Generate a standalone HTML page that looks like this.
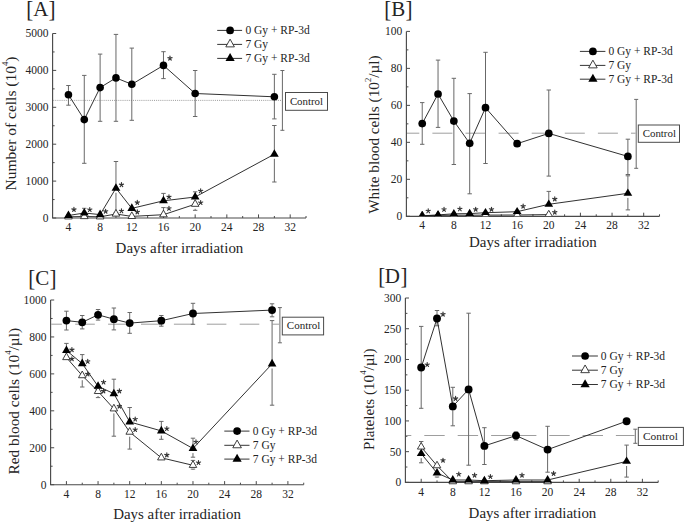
<!DOCTYPE html>
<html><head><meta charset="utf-8"><style>
html,body{margin:0;padding:0;background:#fff;}
body{width:685px;height:523px;overflow:hidden;}
svg{display:block;}
</style></head><body>
<svg width="685" height="523" viewBox="0 0 685 523" font-family="'Liberation Serif', serif"><rect width="685" height="523" fill="#fff"/><defs><clipPath id="clipB"><rect x="380" y="20" width="300" height="196.2"/></clipPath></defs><text x="0" y="0" font-size="21" fill="#242424" transform="translate(26.35 16.80) scale(1 1.07)">[</text><text x="0" y="0" font-size="21" fill="#242424" transform="translate(48.46 16.80) scale(1 1.07)">]</text><text x="33.30" y="15.70" font-size="21" fill="#242424">A</text><path d="M52.60 33.50L52.60 218.00L306.04 218.00" stroke="#4a4a4a" stroke-width="1.15" fill="none"/><path d="M52.60 218.00L56.20 218.00M52.60 199.55L54.60 199.55M52.60 181.10L56.20 181.10M52.60 162.65L54.60 162.65M52.60 144.20L56.20 144.20M52.60 125.75L54.60 125.75M52.60 107.30L56.20 107.30M52.60 88.85L54.60 88.85M52.60 70.40L56.20 70.40M52.60 51.95L54.60 51.95M52.60 33.50L56.20 33.50M68.44 218.00L68.44 214.40M84.28 218.00L84.28 216.00M100.12 218.00L100.12 214.40M115.96 218.00L115.96 216.00M131.80 218.00L131.80 214.40M147.64 218.00L147.64 216.00M163.48 218.00L163.48 214.40M179.32 218.00L179.32 216.00M195.16 218.00L195.16 214.40M211.00 218.00L211.00 216.00M226.84 218.00L226.84 214.40M242.68 218.00L242.68 216.00M258.52 218.00L258.52 214.40M274.36 218.00L274.36 216.00M290.20 218.00L290.20 214.40M306.04 218.00L306.04 216.00" stroke="#4a4a4a" stroke-width="1" fill="none"/><text x="48.40" y="221.90" font-size="11.5" text-anchor="end" fill="#242424" >0</text><text x="48.40" y="185.00" font-size="11.5" text-anchor="end" fill="#242424" >1000</text><text x="48.40" y="148.10" font-size="11.5" text-anchor="end" fill="#242424" >2000</text><text x="48.40" y="111.20" font-size="11.5" text-anchor="end" fill="#242424" >3000</text><text x="48.40" y="74.30" font-size="11.5" text-anchor="end" fill="#242424" >4000</text><text x="48.40" y="37.40" font-size="11.5" text-anchor="end" fill="#242424" >5000</text><text x="68.44" y="231.00" font-size="11.5" text-anchor="middle" fill="#242424" >4</text><text x="100.12" y="231.00" font-size="11.5" text-anchor="middle" fill="#242424" >8</text><text x="131.80" y="231.00" font-size="11.5" text-anchor="middle" fill="#242424" >12</text><text x="163.48" y="231.00" font-size="11.5" text-anchor="middle" fill="#242424" >16</text><text x="195.16" y="231.00" font-size="11.5" text-anchor="middle" fill="#242424" >20</text><text x="226.84" y="231.00" font-size="11.5" text-anchor="middle" fill="#242424" >24</text><text x="258.52" y="231.00" font-size="11.5" text-anchor="middle" fill="#242424" >28</text><text x="290.20" y="231.00" font-size="11.5" text-anchor="middle" fill="#242424" >32</text><path d="M53.20 100.4L282 100.4" stroke="#8a8a8a" stroke-width="0.85" stroke-dasharray="1 1.1" fill="none"/><text x="0" y="0" font-size="15.5" fill="#242424" transform="translate(16.20 190.40) rotate(-90)">Number of cells (10<tspan font-size="8.6" dy="-8.0">4</tspan><tspan dy="8.0">)</tspan></text><text x="115.60" y="253.30" font-size="14.95" text-anchor="start" fill="#242424" >Days after irradiation</text><path d="M163.48 207.60L163.48 211.70M161.28 207.60L165.68 207.60" stroke="#686868" stroke-width="1.0" fill="none"/><path d="M195.16 208.80L195.16 210.30M192.96 210.30L197.36 210.30" stroke="#686868" stroke-width="1.0" fill="none"/><path d="M84.28 208.30L84.28 210.00M82.08 208.30L86.48 208.30" stroke="#686868" stroke-width="1.0" fill="none"/><path d="M115.96 161.50L115.96 185.20M113.76 161.50L118.16 161.50" stroke="#686868" stroke-width="1.0" fill="none"/><path d="M115.96 192.80L115.96 212.50M113.76 212.50L118.16 212.50" stroke="#686868" stroke-width="1.0" fill="none"/><path d="M163.48 193.40L163.48 197.80M161.28 193.40L165.68 193.40" stroke="#686868" stroke-width="1.0" fill="none"/><path d="M195.16 191.80L195.16 194.00M192.96 191.80L197.36 191.80" stroke="#686868" stroke-width="1.0" fill="none"/><path d="M274.36 125.50L274.36 151.20M272.16 125.50L276.56 125.50" stroke="#686868" stroke-width="1.0" fill="none"/><path d="M274.36 158.80L274.36 182.00M272.16 182.00L276.56 182.00" stroke="#686868" stroke-width="1.0" fill="none"/><path d="M68.44 85.50L68.44 94.80M66.24 85.50L70.64 85.50" stroke="#686868" stroke-width="1.0" fill="none"/><path d="M68.44 94.80L68.44 105.20M66.24 105.20L70.64 105.20" stroke="#686868" stroke-width="1.0" fill="none"/><path d="M84.28 75.40L84.28 119.60M82.08 75.40L86.48 75.40" stroke="#686868" stroke-width="1.0" fill="none"/><path d="M84.28 119.60L84.28 163.30M82.08 163.30L86.48 163.30" stroke="#686868" stroke-width="1.0" fill="none"/><path d="M100.12 54.10L100.12 87.60M97.92 54.10L102.32 54.10" stroke="#686868" stroke-width="1.0" fill="none"/><path d="M100.12 87.60L100.12 121.30M97.92 121.30L102.32 121.30" stroke="#686868" stroke-width="1.0" fill="none"/><path d="M115.96 34.40L115.96 77.90M113.76 34.40L118.16 34.40" stroke="#686868" stroke-width="1.0" fill="none"/><path d="M115.96 77.90L115.96 121.30M113.76 121.30L118.16 121.30" stroke="#686868" stroke-width="1.0" fill="none"/><path d="M131.80 48.10L131.80 84.30M129.60 48.10L134.00 48.10" stroke="#686868" stroke-width="1.0" fill="none"/><path d="M131.80 84.30L131.80 120.30M129.60 120.30L134.00 120.30" stroke="#686868" stroke-width="1.0" fill="none"/><path d="M163.48 51.70L163.48 65.40M161.28 51.70L165.68 51.70" stroke="#686868" stroke-width="1.0" fill="none"/><path d="M163.48 65.40L163.48 78.60M161.28 78.60L165.68 78.60" stroke="#686868" stroke-width="1.0" fill="none"/><path d="M195.16 70.50L195.16 93.50M192.96 70.50L197.36 70.50" stroke="#686868" stroke-width="1.0" fill="none"/><path d="M195.16 93.50L195.16 116.50M192.96 116.50L197.36 116.50" stroke="#686868" stroke-width="1.0" fill="none"/><path d="M274.36 74.30L274.36 96.80M272.16 74.30L276.56 74.30" stroke="#686868" stroke-width="1.0" fill="none"/><path d="M274.36 96.80L274.36 118.90M272.16 118.90L276.56 118.90" stroke="#686868" stroke-width="1.0" fill="none"/><path d="M68.44 216.80L84.28 216.50L100.12 216.80L115.96 214.00L131.80 216.40L163.48 214.70L195.16 204.20" stroke="#1a1a1a" stroke-width="0.9" fill="none" stroke-linejoin="round"/><path d="M68.44 215.50L84.28 213.00L100.12 214.60L115.96 188.20L131.80 208.40L163.48 200.80L195.16 197.00L274.36 154.20" stroke="#1a1a1a" stroke-width="0.9" fill="none" stroke-linejoin="round"/><path d="M68.44 94.80L84.28 119.60L100.12 87.60L115.96 77.90L131.80 84.30L163.48 65.40L195.16 93.50L274.36 96.80" stroke="#1a1a1a" stroke-width="0.9" fill="none" stroke-linejoin="round"/><path d="M68.44 212.23L64.64 218.93L72.24 218.93Z" fill="#fff" stroke="#2a2a2a" stroke-width="0.9"/><path d="M84.28 211.93L80.48 218.63L88.08 218.63Z" fill="#fff" stroke="#2a2a2a" stroke-width="0.9"/><path d="M100.12 212.23L96.32 218.93L103.92 218.93Z" fill="#fff" stroke="#2a2a2a" stroke-width="0.9"/><path d="M115.96 209.43L112.16 216.13L119.76 216.13Z" fill="#fff" stroke="#2a2a2a" stroke-width="0.9"/><path d="M131.80 211.83L128.00 218.53L135.60 218.53Z" fill="#fff" stroke="#2a2a2a" stroke-width="0.9"/><path d="M163.48 210.13L159.68 216.83L167.28 216.83Z" fill="#fff" stroke="#2a2a2a" stroke-width="0.9"/><path d="M195.16 199.63L191.36 206.33L198.96 206.33Z" fill="#fff" stroke="#2a2a2a" stroke-width="0.9"/><path d="M68.44 210.43L64.04 218.03L72.84 218.03Z" fill="#000"/><path d="M84.28 207.93L79.88 215.53L88.68 215.53Z" fill="#000"/><path d="M100.12 209.53L95.72 217.13L104.52 217.13Z" fill="#000"/><path d="M115.96 183.13L111.56 190.73L120.36 190.73Z" fill="#000"/><path d="M131.80 203.33L127.40 210.93L136.20 210.93Z" fill="#000"/><path d="M163.48 195.73L159.08 203.33L167.88 203.33Z" fill="#000"/><path d="M195.16 191.93L190.76 199.53L199.56 199.53Z" fill="#000"/><path d="M274.36 149.13L269.96 156.73L278.76 156.73Z" fill="#000"/><circle cx="68.44" cy="94.80" r="3.8" fill="#000"/><circle cx="84.28" cy="119.60" r="3.8" fill="#000"/><circle cx="100.12" cy="87.60" r="3.8" fill="#000"/><circle cx="115.96" cy="77.90" r="3.8" fill="#000"/><circle cx="131.80" cy="84.30" r="3.8" fill="#000"/><circle cx="163.48" cy="65.40" r="3.8" fill="#000"/><circle cx="195.16" cy="93.50" r="3.8" fill="#000"/><circle cx="274.36" cy="96.80" r="3.8" fill="#000"/><path d="M73.94 209.60L73.94 207.40M73.94 209.60L76.03 208.92M73.94 209.60L75.23 211.38M73.94 209.60L72.65 211.38M73.94 209.60L71.85 208.92" stroke="#333" stroke-width="1.15" fill="none" stroke-linecap="round"/><path d="M89.78 209.70L89.78 207.50M89.78 209.70L91.87 209.02M89.78 209.70L91.07 211.48M89.78 209.70L88.49 211.48M89.78 209.70L87.69 209.02" stroke="#333" stroke-width="1.15" fill="none" stroke-linecap="round"/><path d="M105.62 211.40L105.62 209.20M105.62 211.40L107.71 210.72M105.62 211.40L106.91 213.18M105.62 211.40L104.33 213.18M105.62 211.40L103.53 210.72" stroke="#333" stroke-width="1.15" fill="none" stroke-linecap="round"/><path d="M121.46 211.00L121.46 208.80M121.46 211.00L123.55 210.32M121.46 211.00L122.75 212.78M121.46 211.00L120.17 212.78M121.46 211.00L119.37 210.32" stroke="#333" stroke-width="1.15" fill="none" stroke-linecap="round"/><path d="M137.30 202.60L137.30 200.40M137.30 202.60L139.39 201.92M137.30 202.60L138.59 204.38M137.30 202.60L136.01 204.38M137.30 202.60L135.21 201.92" stroke="#333" stroke-width="1.15" fill="none" stroke-linecap="round"/><path d="M168.98 196.90L168.98 194.70M168.98 196.90L171.07 196.22M168.98 196.90L170.27 198.68M168.98 196.90L167.69 198.68M168.98 196.90L166.89 196.22" stroke="#333" stroke-width="1.15" fill="none" stroke-linecap="round"/><path d="M200.66 191.00L200.66 188.80M200.66 191.00L202.75 190.32M200.66 191.00L201.95 192.78M200.66 191.00L199.37 192.78M200.66 191.00L198.57 190.32" stroke="#333" stroke-width="1.15" fill="none" stroke-linecap="round"/><path d="M121.46 184.80L121.46 182.60M121.46 184.80L123.55 184.12M121.46 184.80L122.75 186.58M121.46 184.80L120.17 186.58M121.46 184.80L119.37 184.12" stroke="#333" stroke-width="1.15" fill="none" stroke-linecap="round"/><path d="M137.30 212.10L137.30 209.90M137.30 212.10L139.39 211.42M137.30 212.10L138.59 213.88M137.30 212.10L136.01 213.88M137.30 212.10L135.21 211.42" stroke="#333" stroke-width="1.15" fill="none" stroke-linecap="round"/><path d="M168.98 208.50L168.98 206.30M168.98 208.50L171.07 207.82M168.98 208.50L170.27 210.28M168.98 208.50L167.69 210.28M168.98 208.50L166.89 207.82" stroke="#333" stroke-width="1.15" fill="none" stroke-linecap="round"/><path d="M200.66 202.70L200.66 200.50M200.66 202.70L202.75 202.02M200.66 202.70L201.95 204.48M200.66 202.70L199.37 204.48M200.66 202.70L198.57 202.02" stroke="#333" stroke-width="1.15" fill="none" stroke-linecap="round"/><path d="M169.98 58.30L169.98 56.10M169.98 58.30L172.07 57.62M169.98 58.30L171.27 60.08M169.98 58.30L168.69 60.08M169.98 58.30L167.89 57.62" stroke="#333" stroke-width="1.15" fill="none" stroke-linecap="round"/><path d="M217.20 30.40L242.10 30.40" stroke="#2a2a2a" stroke-width="0.95" fill="none"/><circle cx="230.10" cy="30.40" r="3.85" fill="#000"/><text x="245.40" y="34.10" font-size="11.5" text-anchor="start" fill="#242424" >0 Gy + RP-3d</text><path d="M217.20 44.40L242.10 44.40" stroke="#2a2a2a" stroke-width="0.95" fill="none"/><path d="M230.10 39.17L225.80 46.87L234.40 46.87Z" fill="#fff" stroke="#2a2a2a" stroke-width="0.9"/><text x="245.40" y="48.10" font-size="11.5" text-anchor="start" fill="#242424" >7 Gy</text><path d="M217.20 58.40L242.10 58.40" stroke="#2a2a2a" stroke-width="0.95" fill="none"/><path d="M230.10 53.07L225.50 61.07L234.70 61.07Z" fill="#000"/><text x="245.40" y="62.10" font-size="11.5" text-anchor="start" fill="#242424" >7 Gy + RP-3d</text><path d="M282.40 70.50L282.40 130.30M280.40 70.50L284.40 70.50M280.40 130.30L284.40 130.30" stroke="#686868" stroke-width="1.0" fill="none"/><rect x="285.50" y="92.50" width="42.00" height="17.80" fill="#fff" stroke="#4a4a4a" stroke-width="1"/><text x="289.90" y="104.70" font-size="10.85" text-anchor="start" fill="#242424" >Control</text><text x="0" y="0" font-size="21" fill="#242424" transform="translate(384.15 16.90) scale(1 1.07)">[</text><text x="0" y="0" font-size="21" fill="#242424" transform="translate(405.46 16.90) scale(1 1.07)">]</text><text x="391.30" y="15.80" font-size="21" fill="#242424">B</text><path d="M406.40 31.40L406.40 216.30L659.52 216.30" stroke="#4a4a4a" stroke-width="1.15" fill="none"/><path d="M406.40 216.30L410.00 216.30M406.40 197.81L408.40 197.81M406.40 179.32L410.00 179.32M406.40 160.83L408.40 160.83M406.40 142.34L410.00 142.34M406.40 123.85L408.40 123.85M406.40 105.36L410.00 105.36M406.40 86.87L408.40 86.87M406.40 68.38L410.00 68.38M406.40 49.89L408.40 49.89M406.40 31.40L410.00 31.40M422.22 216.30L422.22 212.70M438.04 216.30L438.04 214.30M453.86 216.30L453.86 212.70M469.68 216.30L469.68 214.30M485.50 216.30L485.50 212.70M501.32 216.30L501.32 214.30M517.14 216.30L517.14 212.70M532.96 216.30L532.96 214.30M548.78 216.30L548.78 212.70M564.60 216.30L564.60 214.30M580.42 216.30L580.42 212.70M596.24 216.30L596.24 214.30M612.06 216.30L612.06 212.70M627.88 216.30L627.88 214.30M643.70 216.30L643.70 212.70M659.52 216.30L659.52 214.30" stroke="#4a4a4a" stroke-width="1" fill="none"/><text x="402.20" y="220.20" font-size="11.5" text-anchor="end" fill="#242424" >0</text><text x="402.20" y="183.22" font-size="11.5" text-anchor="end" fill="#242424" >20</text><text x="402.20" y="146.24" font-size="11.5" text-anchor="end" fill="#242424" >40</text><text x="402.20" y="109.26" font-size="11.5" text-anchor="end" fill="#242424" >60</text><text x="402.20" y="72.28" font-size="11.5" text-anchor="end" fill="#242424" >80</text><text x="402.20" y="35.30" font-size="11.5" text-anchor="end" fill="#242424" >100</text><text x="422.22" y="228.90" font-size="11.5" text-anchor="middle" fill="#242424" >4</text><text x="453.86" y="228.90" font-size="11.5" text-anchor="middle" fill="#242424" >8</text><text x="485.50" y="228.90" font-size="11.5" text-anchor="middle" fill="#242424" >12</text><text x="517.14" y="228.90" font-size="11.5" text-anchor="middle" fill="#242424" >16</text><text x="548.78" y="228.90" font-size="11.5" text-anchor="middle" fill="#242424" >20</text><text x="580.42" y="228.90" font-size="11.5" text-anchor="middle" fill="#242424" >24</text><text x="612.06" y="228.90" font-size="11.5" text-anchor="middle" fill="#242424" >28</text><text x="643.70" y="228.90" font-size="11.5" text-anchor="middle" fill="#242424" >32</text><path d="M407.00 133.20L419.30 133.20M432.40 133.20L452.40 133.20M465.50 133.20L485.50 133.20M498.60 133.20L518.60 133.20M531.70 133.20L551.70 133.20M564.80 133.20L584.80 133.20M597.90 133.20L617.90 133.20M631.00 133.20L635.50 133.20" stroke="#999" stroke-width="0.95" fill="none"/><text x="0" y="0" font-size="15.25" fill="#242424" transform="translate(378.60 213.80) rotate(-90)">White blood cells (10<tspan font-size="8.6" dy="-8.0">2</tspan><tspan dy="8.0">/µl)</tspan></text><text x="469.00" y="247.30" font-size="14.95" text-anchor="start" fill="#242424" >Days after irradiation</text><path d="M548.78 191.40L548.78 201.30M546.58 191.40L550.98 191.40" stroke="#686868" stroke-width="1.0" fill="none"/><path d="M627.88 175.80L627.88 190.30M625.68 175.80L630.08 175.80" stroke="#686868" stroke-width="1.0" fill="none"/><path d="M627.88 197.90L627.88 209.90M625.68 209.90L630.08 209.90" stroke="#686868" stroke-width="1.0" fill="none"/><path d="M422.22 102.60L422.22 123.60M420.02 102.60L424.42 102.60" stroke="#686868" stroke-width="1.0" fill="none"/><path d="M422.22 123.60L422.22 144.30M420.02 144.30L424.42 144.30" stroke="#686868" stroke-width="1.0" fill="none"/><path d="M438.04 60.10L438.04 94.00M435.84 60.10L440.24 60.10" stroke="#686868" stroke-width="1.0" fill="none"/><path d="M438.04 94.00L438.04 127.40M435.84 127.40L440.24 127.40" stroke="#686868" stroke-width="1.0" fill="none"/><path d="M453.86 78.30L453.86 121.10M451.66 78.30L456.06 78.30" stroke="#686868" stroke-width="1.0" fill="none"/><path d="M453.86 121.10L453.86 164.50M451.66 164.50L456.06 164.50" stroke="#686868" stroke-width="1.0" fill="none"/><path d="M469.68 93.60L469.68 143.30M467.48 93.60L471.88 93.60" stroke="#686868" stroke-width="1.0" fill="none"/><path d="M469.68 143.30L469.68 193.80M467.48 193.80L471.88 193.80" stroke="#686868" stroke-width="1.0" fill="none"/><path d="M485.50 52.30L485.50 107.70M483.30 52.30L487.70 52.30" stroke="#686868" stroke-width="1.0" fill="none"/><path d="M485.50 107.70L485.50 163.50M483.30 163.50L487.70 163.50" stroke="#686868" stroke-width="1.0" fill="none"/><path d="M548.78 90.00L548.78 133.40M546.58 90.00L550.98 90.00" stroke="#686868" stroke-width="1.0" fill="none"/><path d="M548.78 133.40L548.78 176.10M546.58 176.10L550.98 176.10" stroke="#686868" stroke-width="1.0" fill="none"/><path d="M627.88 139.20L627.88 156.40M625.68 139.20L630.08 139.20" stroke="#686868" stroke-width="1.0" fill="none"/><path d="M627.88 156.40L627.88 174.50M625.68 174.50L630.08 174.50" stroke="#686868" stroke-width="1.0" fill="none"/><path d="M422.22 215.50L438.04 215.40L453.86 215.20L469.68 215.20L485.50 215.10L517.14 215.00L548.78 214.60" stroke="#1a1a1a" stroke-width="0.9" fill="none" stroke-linejoin="round"/><path d="M422.22 215.90L438.04 214.90L453.86 213.80L469.68 213.60L485.50 212.70L517.14 211.70L548.78 204.30L627.88 193.30" stroke="#1a1a1a" stroke-width="0.9" fill="none" stroke-linejoin="round"/><path d="M422.22 123.60L438.04 94.00L453.86 121.10L469.68 143.30L485.50 107.70L517.14 143.70L548.78 133.40L627.88 156.40" stroke="#1a1a1a" stroke-width="0.9" fill="none" stroke-linejoin="round"/><g clip-path="url(#clipB)"><path d="M422.22 211.20L418.47 217.50L425.97 217.50Z" fill="#fff" stroke="#2a2a2a" stroke-width="0.9"/><path d="M438.04 211.10L434.29 217.40L441.79 217.40Z" fill="#fff" stroke="#2a2a2a" stroke-width="0.9"/><path d="M453.86 210.90L450.11 217.20L457.61 217.20Z" fill="#fff" stroke="#2a2a2a" stroke-width="0.9"/><path d="M469.68 210.90L465.93 217.20L473.43 217.20Z" fill="#fff" stroke="#2a2a2a" stroke-width="0.9"/><path d="M485.50 210.80L481.75 217.10L489.25 217.10Z" fill="#fff" stroke="#2a2a2a" stroke-width="0.9"/><path d="M517.14 210.70L513.39 217.00L520.89 217.00Z" fill="#fff" stroke="#2a2a2a" stroke-width="0.9"/><path d="M548.78 210.30L545.03 216.60L552.53 216.60Z" fill="#fff" stroke="#2a2a2a" stroke-width="0.9"/><path d="M422.22 211.10L417.87 218.30L426.57 218.30Z" fill="#000"/><path d="M438.04 210.10L433.69 217.30L442.39 217.30Z" fill="#000"/><path d="M453.86 209.00L449.51 216.20L458.21 216.20Z" fill="#000"/><path d="M469.68 208.80L465.33 216.00L474.03 216.00Z" fill="#000"/><path d="M485.50 207.90L481.15 215.10L489.85 215.10Z" fill="#000"/><path d="M517.14 206.90L512.79 214.10L521.49 214.10Z" fill="#000"/><path d="M548.78 199.50L544.43 206.70L553.13 206.70Z" fill="#000"/><path d="M627.88 188.50L623.53 195.70L632.23 195.70Z" fill="#000"/></g><circle cx="422.22" cy="123.60" r="3.85" fill="#000"/><circle cx="438.04" cy="94.00" r="3.85" fill="#000"/><circle cx="453.86" cy="121.10" r="3.85" fill="#000"/><circle cx="469.68" cy="143.30" r="3.85" fill="#000"/><circle cx="485.50" cy="107.70" r="3.85" fill="#000"/><circle cx="517.14" cy="143.70" r="3.85" fill="#000"/><circle cx="548.78" cy="133.40" r="3.85" fill="#000"/><circle cx="627.88" cy="156.40" r="3.85" fill="#000"/><path d="M428.22 211.00L428.22 208.80M428.22 211.00L430.31 210.32M428.22 211.00L429.51 212.78M428.22 211.00L426.93 212.78M428.22 211.00L426.13 210.32" stroke="#333" stroke-width="1.15" fill="none" stroke-linecap="round"/><path d="M444.04 209.50L444.04 207.30M444.04 209.50L446.13 208.82M444.04 209.50L445.33 211.28M444.04 209.50L442.75 211.28M444.04 209.50L441.95 208.82" stroke="#333" stroke-width="1.15" fill="none" stroke-linecap="round"/><path d="M459.86 209.00L459.86 206.80M459.86 209.00L461.95 208.32M459.86 209.00L461.15 210.78M459.86 209.00L458.57 210.78M459.86 209.00L457.77 208.32" stroke="#333" stroke-width="1.15" fill="none" stroke-linecap="round"/><path d="M475.68 209.40L475.68 207.20M475.68 209.40L477.77 208.72M475.68 209.40L476.97 211.18M475.68 209.40L474.39 211.18M475.68 209.40L473.59 208.72" stroke="#333" stroke-width="1.15" fill="none" stroke-linecap="round"/><path d="M491.50 209.40L491.50 207.20M491.50 209.40L493.59 208.72M491.50 209.40L492.79 211.18M491.50 209.40L490.21 211.18M491.50 209.40L489.41 208.72" stroke="#333" stroke-width="1.15" fill="none" stroke-linecap="round"/><path d="M523.14 206.30L523.14 204.10M523.14 206.30L525.23 205.62M523.14 206.30L524.43 208.08M523.14 206.30L521.85 208.08M523.14 206.30L521.05 205.62" stroke="#333" stroke-width="1.15" fill="none" stroke-linecap="round"/><path d="M554.78 199.10L554.78 196.90M554.78 199.10L556.87 198.42M554.78 199.10L556.07 200.88M554.78 199.10L553.49 200.88M554.78 199.10L552.69 198.42" stroke="#333" stroke-width="1.15" fill="none" stroke-linecap="round"/><path d="M554.78 212.30L554.78 210.10M554.78 212.30L556.87 211.62M554.78 212.30L556.07 214.08M554.78 212.30L553.49 214.08M554.78 212.30L552.69 211.62" stroke="#333" stroke-width="1.15" fill="none" stroke-linecap="round"/><path d="M579.90 51.40L605.40 51.40" stroke="#2a2a2a" stroke-width="0.95" fill="none"/><circle cx="592.90" cy="51.40" r="3.85" fill="#000"/><text x="608.40" y="55.10" font-size="11.5" text-anchor="start" fill="#242424" >0 Gy + RP-3d</text><path d="M579.90 65.40L605.40 65.40" stroke="#2a2a2a" stroke-width="0.95" fill="none"/><path d="M592.90 60.17L588.60 67.87L597.20 67.87Z" fill="#fff" stroke="#2a2a2a" stroke-width="0.9"/><text x="608.40" y="69.10" font-size="11.5" text-anchor="start" fill="#242424" >7 Gy</text><path d="M579.90 79.20L605.40 79.20" stroke="#2a2a2a" stroke-width="0.95" fill="none"/><path d="M592.90 73.87L588.30 81.87L597.50 81.87Z" fill="#000"/><text x="608.40" y="82.90" font-size="11.5" text-anchor="start" fill="#242424" >7 Gy + RP-3d</text><path d="M636.20 99.40L636.20 168.30M634.20 99.40L638.20 99.40M634.20 168.30L638.20 168.30" stroke="#686868" stroke-width="1.0" fill="none"/><rect x="638.30" y="125.00" width="41.20" height="17.30" fill="#fff" stroke="#4a4a4a" stroke-width="1"/><text x="642.70" y="136.60" font-size="10.9" text-anchor="start" fill="#242424" >Control</text><text x="0" y="0" font-size="21" fill="#242424" transform="translate(28.35 285.60) scale(1 1.07)">[</text><text x="0" y="0" font-size="21" fill="#242424" transform="translate(49.46 285.60) scale(1 1.07)">]</text><text x="35.20" y="284.50" font-size="21" fill="#242424">C</text><path d="M50.60 300.00L50.60 484.70L303.72 484.70" stroke="#4a4a4a" stroke-width="1.15" fill="none"/><path d="M50.60 484.70L54.20 484.70M50.60 466.23L52.60 466.23M50.60 447.76L54.20 447.76M50.60 429.29L52.60 429.29M50.60 410.82L54.20 410.82M50.60 392.35L52.60 392.35M50.60 373.88L54.20 373.88M50.60 355.41L52.60 355.41M50.60 336.94L54.20 336.94M50.60 318.47L52.60 318.47M50.60 300.00L54.20 300.00M66.42 484.70L66.42 481.10M82.24 484.70L82.24 482.70M98.06 484.70L98.06 481.10M113.88 484.70L113.88 482.70M129.70 484.70L129.70 481.10M145.52 484.70L145.52 482.70M161.34 484.70L161.34 481.10M177.16 484.70L177.16 482.70M192.98 484.70L192.98 481.10M208.80 484.70L208.80 482.70M224.62 484.70L224.62 481.10M240.44 484.70L240.44 482.70M256.26 484.70L256.26 481.10M272.08 484.70L272.08 482.70M287.90 484.70L287.90 481.10M303.72 484.70L303.72 482.70" stroke="#4a4a4a" stroke-width="1" fill="none"/><text x="46.40" y="488.60" font-size="11.5" text-anchor="end" fill="#242424" >0</text><text x="46.40" y="451.66" font-size="11.5" text-anchor="end" fill="#242424" >200</text><text x="46.40" y="414.72" font-size="11.5" text-anchor="end" fill="#242424" >400</text><text x="46.40" y="377.78" font-size="11.5" text-anchor="end" fill="#242424" >600</text><text x="46.40" y="340.84" font-size="11.5" text-anchor="end" fill="#242424" >800</text><text x="46.40" y="303.90" font-size="11.5" text-anchor="end" fill="#242424" >1000</text><text x="66.42" y="498.00" font-size="11.5" text-anchor="middle" fill="#242424" >4</text><text x="98.06" y="498.00" font-size="11.5" text-anchor="middle" fill="#242424" >8</text><text x="129.70" y="498.00" font-size="11.5" text-anchor="middle" fill="#242424" >12</text><text x="161.34" y="498.00" font-size="11.5" text-anchor="middle" fill="#242424" >16</text><text x="192.98" y="498.00" font-size="11.5" text-anchor="middle" fill="#242424" >20</text><text x="224.62" y="498.00" font-size="11.5" text-anchor="middle" fill="#242424" >24</text><text x="256.26" y="498.00" font-size="11.5" text-anchor="middle" fill="#242424" >28</text><text x="287.90" y="498.00" font-size="11.5" text-anchor="middle" fill="#242424" >32</text><path d="M51.20 324.20L61.90 324.20M75.20 324.20L94.80 324.20M108.10 324.20L127.70 324.20M141.00 324.20L160.60 324.20M173.90 324.20L193.50 324.20M206.80 324.20L226.40 324.20M239.70 324.20L259.30 324.20M272.60 324.20L279.00 324.20" stroke="#999" stroke-width="0.95" fill="none"/><text x="0" y="0" font-size="15.35" fill="#242424" transform="translate(19.00 474.50) rotate(-90)">Red blood cells (10<tspan font-size="8.6" dy="-8.0">4</tspan><tspan dy="8.0">/µl)</tspan></text><text x="113.20" y="518.50" font-size="14.95" text-anchor="start" fill="#242424" >Days after irradiation</text><path d="M82.24 380.20L82.24 387.00M80.04 387.00L84.44 387.00" stroke="#686868" stroke-width="1.0" fill="none"/><path d="M98.06 396.00L98.06 397.60M95.86 397.60L100.26 397.60" stroke="#686868" stroke-width="1.0" fill="none"/><path d="M113.88 413.40L113.88 436.20M111.68 436.20L116.08 436.20" stroke="#686868" stroke-width="1.0" fill="none"/><path d="M129.70 436.70L129.70 449.10M127.50 449.10L131.90 449.10" stroke="#686868" stroke-width="1.0" fill="none"/><path d="M192.98 460.40L192.98 462.30M190.78 460.40L195.18 460.40" stroke="#686868" stroke-width="1.0" fill="none"/><path d="M192.98 469.90L192.98 469.10M190.78 469.10L195.18 469.10" stroke="#686868" stroke-width="1.0" fill="none"/><path d="M66.42 343.40L66.42 347.50M64.22 343.40L68.62 343.40" stroke="#686868" stroke-width="1.0" fill="none"/><path d="M82.24 354.60L82.24 360.60M80.04 354.60L84.44 354.60" stroke="#686868" stroke-width="1.0" fill="none"/><path d="M113.88 379.20L113.88 390.70M111.68 379.20L116.08 379.20" stroke="#686868" stroke-width="1.0" fill="none"/><path d="M129.70 407.50L129.70 418.90M127.50 407.50L131.90 407.50" stroke="#686868" stroke-width="1.0" fill="none"/><path d="M161.34 421.40L161.34 427.90M159.14 421.40L163.54 421.40" stroke="#686868" stroke-width="1.0" fill="none"/><path d="M161.34 435.50L161.34 439.30M159.14 439.30L163.54 439.30" stroke="#686868" stroke-width="1.0" fill="none"/><path d="M192.98 438.20L192.98 445.50M190.78 438.20L195.18 438.20" stroke="#686868" stroke-width="1.0" fill="none"/><path d="M192.98 453.10L192.98 457.20M190.78 457.20L195.18 457.20" stroke="#686868" stroke-width="1.0" fill="none"/><path d="M272.08 320.60L272.08 360.90M269.88 320.60L274.28 320.60" stroke="#686868" stroke-width="1.0" fill="none"/><path d="M272.08 368.50L272.08 405.20M269.88 405.20L274.28 405.20" stroke="#686868" stroke-width="1.0" fill="none"/><path d="M66.42 311.20L66.42 320.60M64.22 311.20L68.62 311.20" stroke="#686868" stroke-width="1.0" fill="none"/><path d="M66.42 320.60L66.42 330.00M64.22 330.00L68.62 330.00" stroke="#686868" stroke-width="1.0" fill="none"/><path d="M82.24 315.50L82.24 322.30M80.04 315.50L84.44 315.50" stroke="#686868" stroke-width="1.0" fill="none"/><path d="M82.24 322.30L82.24 328.90M80.04 328.90L84.44 328.90" stroke="#686868" stroke-width="1.0" fill="none"/><path d="M98.06 309.50L98.06 314.80M95.86 309.50L100.26 309.50" stroke="#686868" stroke-width="1.0" fill="none"/><path d="M98.06 314.80L98.06 320.10M95.86 320.10L100.26 320.10" stroke="#686868" stroke-width="1.0" fill="none"/><path d="M113.88 308.00L113.88 319.20M111.68 308.00L116.08 308.00" stroke="#686868" stroke-width="1.0" fill="none"/><path d="M113.88 319.20L113.88 329.90M111.68 329.90L116.08 329.90" stroke="#686868" stroke-width="1.0" fill="none"/><path d="M129.70 312.50L129.70 323.10M127.50 312.50L131.90 312.50" stroke="#686868" stroke-width="1.0" fill="none"/><path d="M129.70 323.10L129.70 333.30M127.50 333.30L131.90 333.30" stroke="#686868" stroke-width="1.0" fill="none"/><path d="M161.34 315.50L161.34 320.70M159.14 315.50L163.54 315.50" stroke="#686868" stroke-width="1.0" fill="none"/><path d="M161.34 320.70L161.34 326.20M159.14 326.20L163.54 326.20" stroke="#686868" stroke-width="1.0" fill="none"/><path d="M192.98 303.30L192.98 313.50M190.78 303.30L195.18 303.30" stroke="#686868" stroke-width="1.0" fill="none"/><path d="M192.98 313.50L192.98 324.30M190.78 324.30L195.18 324.30" stroke="#686868" stroke-width="1.0" fill="none"/><path d="M272.08 303.80L272.08 310.10M269.88 303.80L274.28 303.80" stroke="#686868" stroke-width="1.0" fill="none"/><path d="M272.08 310.10L272.08 316.80M269.88 316.80L274.28 316.80" stroke="#686868" stroke-width="1.0" fill="none"/><path d="M66.42 357.50L82.24 375.60L98.06 391.40L113.88 408.80L129.70 432.10L161.34 457.80L192.98 465.30" stroke="#1a1a1a" stroke-width="0.9" fill="none" stroke-linejoin="round"/><path d="M66.42 350.50L82.24 363.60L98.06 386.30L113.88 393.70L129.70 421.90L161.34 430.90L192.98 448.50L272.08 363.90" stroke="#1a1a1a" stroke-width="0.9" fill="none" stroke-linejoin="round"/><path d="M66.42 320.60L82.24 322.30L98.06 314.80L113.88 319.20L129.70 323.10L161.34 320.70L192.98 313.50L272.08 310.10" stroke="#1a1a1a" stroke-width="0.9" fill="none" stroke-linejoin="round"/><path d="M66.42 352.93L62.67 359.63L70.17 359.63Z" fill="#fff" stroke="#2a2a2a" stroke-width="0.9"/><path d="M82.24 371.03L78.49 377.73L85.99 377.73Z" fill="#fff" stroke="#2a2a2a" stroke-width="0.9"/><path d="M98.06 386.83L94.31 393.53L101.81 393.53Z" fill="#fff" stroke="#2a2a2a" stroke-width="0.9"/><path d="M113.88 404.23L110.13 410.93L117.63 410.93Z" fill="#fff" stroke="#2a2a2a" stroke-width="0.9"/><path d="M129.70 427.53L125.95 434.23L133.45 434.23Z" fill="#fff" stroke="#2a2a2a" stroke-width="0.9"/><path d="M161.34 453.23L157.59 459.93L165.09 459.93Z" fill="#fff" stroke="#2a2a2a" stroke-width="0.9"/><path d="M192.98 460.73L189.23 467.43L196.73 467.43Z" fill="#fff" stroke="#2a2a2a" stroke-width="0.9"/><path d="M66.42 345.43L62.07 353.03L70.77 353.03Z" fill="#000"/><path d="M82.24 358.53L77.89 366.13L86.59 366.13Z" fill="#000"/><path d="M98.06 381.23L93.71 388.83L102.41 388.83Z" fill="#000"/><path d="M113.88 388.63L109.53 396.23L118.23 396.23Z" fill="#000"/><path d="M129.70 416.83L125.35 424.43L134.05 424.43Z" fill="#000"/><path d="M161.34 425.83L156.99 433.43L165.69 433.43Z" fill="#000"/><path d="M192.98 443.43L188.63 451.03L197.33 451.03Z" fill="#000"/><path d="M272.08 358.83L267.73 366.43L276.43 366.43Z" fill="#000"/><circle cx="66.42" cy="320.60" r="3.9" fill="#000"/><circle cx="82.24" cy="322.30" r="3.9" fill="#000"/><circle cx="98.06" cy="314.80" r="3.9" fill="#000"/><circle cx="113.88" cy="319.20" r="3.9" fill="#000"/><circle cx="129.70" cy="323.10" r="3.9" fill="#000"/><circle cx="161.34" cy="320.70" r="3.9" fill="#000"/><circle cx="192.98" cy="313.50" r="3.9" fill="#000"/><circle cx="272.08" cy="310.10" r="3.9" fill="#000"/><path d="M71.92 349.80L71.92 347.60M71.92 349.80L74.01 349.12M71.92 349.80L73.21 351.58M71.92 349.80L70.63 351.58M71.92 349.80L69.83 349.12" stroke="#333" stroke-width="1.15" fill="none" stroke-linecap="round"/><path d="M71.92 358.90L71.92 356.70M71.92 358.90L74.01 358.22M71.92 358.90L73.21 360.68M71.92 358.90L70.63 360.68M71.92 358.90L69.83 358.22" stroke="#333" stroke-width="1.15" fill="none" stroke-linecap="round"/><path d="M87.74 361.50L87.74 359.30M87.74 361.50L89.83 360.82M87.74 361.50L89.03 363.28M87.74 361.50L86.45 363.28M87.74 361.50L85.65 360.82" stroke="#333" stroke-width="1.15" fill="none" stroke-linecap="round"/><path d="M87.74 374.10L87.74 371.90M87.74 374.10L89.83 373.42M87.74 374.10L89.03 375.88M87.74 374.10L86.45 375.88M87.74 374.10L85.65 373.42" stroke="#333" stroke-width="1.15" fill="none" stroke-linecap="round"/><path d="M103.56 382.20L103.56 380.00M103.56 382.20L105.65 381.52M103.56 382.20L104.85 383.98M103.56 382.20L102.27 383.98M103.56 382.20L101.47 381.52" stroke="#333" stroke-width="1.15" fill="none" stroke-linecap="round"/><path d="M103.56 391.10L103.56 388.90M103.56 391.10L105.65 390.42M103.56 391.10L104.85 392.88M103.56 391.10L102.27 392.88M103.56 391.10L101.47 390.42" stroke="#333" stroke-width="1.15" fill="none" stroke-linecap="round"/><path d="M119.38 391.10L119.38 388.90M119.38 391.10L121.47 390.42M119.38 391.10L120.67 392.88M119.38 391.10L118.09 392.88M119.38 391.10L117.29 390.42" stroke="#333" stroke-width="1.15" fill="none" stroke-linecap="round"/><path d="M119.38 406.30L119.38 404.10M119.38 406.30L121.47 405.62M119.38 406.30L120.67 408.08M119.38 406.30L118.09 408.08M119.38 406.30L117.29 405.62" stroke="#333" stroke-width="1.15" fill="none" stroke-linecap="round"/><path d="M135.20 419.20L135.20 417.00M135.20 419.20L137.29 418.52M135.20 419.20L136.49 420.98M135.20 419.20L133.91 420.98M135.20 419.20L133.11 418.52" stroke="#333" stroke-width="1.15" fill="none" stroke-linecap="round"/><path d="M135.20 429.70L135.20 427.50M135.20 429.70L137.29 429.02M135.20 429.70L136.49 431.48M135.20 429.70L133.91 431.48M135.20 429.70L133.11 429.02" stroke="#333" stroke-width="1.15" fill="none" stroke-linecap="round"/><path d="M166.84 428.70L166.84 426.50M166.84 428.70L168.93 428.02M166.84 428.70L168.13 430.48M166.84 428.70L165.55 430.48M166.84 428.70L164.75 428.02" stroke="#333" stroke-width="1.15" fill="none" stroke-linecap="round"/><path d="M166.84 455.10L166.84 452.90M166.84 455.10L168.93 454.42M166.84 455.10L168.13 456.88M166.84 455.10L165.55 456.88M166.84 455.10L164.75 454.42" stroke="#333" stroke-width="1.15" fill="none" stroke-linecap="round"/><path d="M198.48 462.70L198.48 460.50M198.48 462.70L200.57 462.02M198.48 462.70L199.77 464.48M198.48 462.70L197.19 464.48M198.48 462.70L196.39 462.02" stroke="#333" stroke-width="1.15" fill="none" stroke-linecap="round"/><path d="M195.98 442.00L195.98 439.80M195.98 442.00L198.07 441.32M195.98 442.00L197.27 443.78M195.98 442.00L194.69 443.78M195.98 442.00L193.89 441.32" stroke="#333" stroke-width="1.15" fill="none" stroke-linecap="round"/><path d="M224.30 431.10L249.50 431.10" stroke="#2a2a2a" stroke-width="0.95" fill="none"/><circle cx="237.10" cy="431.10" r="3.85" fill="#000"/><text x="252.80" y="434.80" font-size="11.5" text-anchor="start" fill="#242424" >0 Gy + RP-3d</text><path d="M224.30 445.30L249.50 445.30" stroke="#2a2a2a" stroke-width="0.95" fill="none"/><path d="M237.10 440.07L232.80 447.77L241.40 447.77Z" fill="#fff" stroke="#2a2a2a" stroke-width="0.9"/><text x="252.80" y="449.00" font-size="11.5" text-anchor="start" fill="#242424" >7 Gy</text><path d="M224.30 459.10L249.50 459.10" stroke="#2a2a2a" stroke-width="0.95" fill="none"/><path d="M237.10 453.77L232.50 461.77L241.70 461.77Z" fill="#000"/><text x="252.80" y="462.80" font-size="11.5" text-anchor="start" fill="#242424" >7 Gy + RP-3d</text><path d="M279.90 307.60L279.90 342.80M277.90 307.60L281.90 307.60M277.90 342.80L281.90 342.80" stroke="#686868" stroke-width="1.0" fill="none"/><rect x="282.30" y="317.20" width="41.30" height="17.70" fill="#fff" stroke="#4a4a4a" stroke-width="1"/><text x="286.80" y="328.80" font-size="11" text-anchor="start" fill="#242424" >Control</text><text x="0" y="0" font-size="21" fill="#242424" transform="translate(378.35 284.10) scale(1 1.07)">[</text><text x="0" y="0" font-size="21" fill="#242424" transform="translate(400.56 284.10) scale(1 1.07)">]</text><text x="384.70" y="283.00" font-size="21" fill="#242424">D</text><path d="M405.40 298.00L405.40 482.40L658.20 482.40" stroke="#4a4a4a" stroke-width="1.15" fill="none"/><path d="M405.40 482.40L409.00 482.40M405.40 467.03L407.40 467.03M405.40 451.67L409.00 451.67M405.40 436.30L407.40 436.30M405.40 420.93L409.00 420.93M405.40 405.57L407.40 405.57M405.40 390.20L409.00 390.20M405.40 374.83L407.40 374.83M405.40 359.47L409.00 359.47M405.40 344.10L407.40 344.10M405.40 328.73L409.00 328.73M405.40 313.37L407.40 313.37M405.40 298.00L409.00 298.00M421.20 482.40L421.20 478.80M437.00 482.40L437.00 480.40M452.80 482.40L452.80 478.80M468.60 482.40L468.60 480.40M484.40 482.40L484.40 478.80M500.20 482.40L500.20 480.40M516.00 482.40L516.00 478.80M531.80 482.40L531.80 480.40M547.60 482.40L547.60 478.80M563.40 482.40L563.40 480.40M579.20 482.40L579.20 478.80M595.00 482.40L595.00 480.40M610.80 482.40L610.80 478.80M626.60 482.40L626.60 480.40M642.40 482.40L642.40 478.80M658.20 482.40L658.20 480.40" stroke="#4a4a4a" stroke-width="1" fill="none"/><text x="401.20" y="486.30" font-size="11.5" text-anchor="end" fill="#242424" >0</text><text x="401.20" y="455.57" font-size="11.5" text-anchor="end" fill="#242424" >50</text><text x="401.20" y="424.83" font-size="11.5" text-anchor="end" fill="#242424" >100</text><text x="401.20" y="394.10" font-size="11.5" text-anchor="end" fill="#242424" >150</text><text x="401.20" y="363.37" font-size="11.5" text-anchor="end" fill="#242424" >200</text><text x="401.20" y="332.63" font-size="11.5" text-anchor="end" fill="#242424" >250</text><text x="401.20" y="301.90" font-size="11.5" text-anchor="end" fill="#242424" >300</text><text x="421.20" y="495.60" font-size="11.5" text-anchor="middle" fill="#242424" >4</text><text x="452.80" y="495.60" font-size="11.5" text-anchor="middle" fill="#242424" >8</text><text x="484.40" y="495.60" font-size="11.5" text-anchor="middle" fill="#242424" >12</text><text x="516.00" y="495.60" font-size="11.5" text-anchor="middle" fill="#242424" >16</text><text x="547.60" y="495.60" font-size="11.5" text-anchor="middle" fill="#242424" >20</text><text x="579.20" y="495.60" font-size="11.5" text-anchor="middle" fill="#242424" >24</text><text x="610.80" y="495.60" font-size="11.5" text-anchor="middle" fill="#242424" >28</text><text x="642.40" y="495.60" font-size="11.5" text-anchor="middle" fill="#242424" >32</text><path d="M406.00 435.50L411.30 435.50M424.30 435.50L444.70 435.50M457.70 435.50L478.10 435.50M491.10 435.50L511.50 435.50" stroke="#999" stroke-width="0.95" fill="none"/><path d="M516.00 435.50L536.40 435.50M549.30 435.50L569.70 435.50M582.60 435.50L603.00 435.50M615.90 435.50L634.50 435.50" stroke="#999" stroke-width="0.95" fill="none"/><text x="0" y="0" font-size="15.1" fill="#242424" transform="translate(373.90 449.90) rotate(-90)">Platelets (10<tspan font-size="8.6" dy="-8.0">4</tspan><tspan dy="8.0">/µl)</tspan></text><text x="468.60" y="518.00" font-size="14.95" text-anchor="start" fill="#242424" >Days after irradiation</text><path d="M421.20 441.50L421.20 444.00M419.00 441.50L423.40 441.50" stroke="#686868" stroke-width="1.0" fill="none"/><path d="M421.20 458.20L421.20 462.80M419.00 462.80L423.40 462.80" stroke="#686868" stroke-width="1.0" fill="none"/><path d="M437.00 477.60L437.00 477.00M434.80 477.00L439.20 477.00" stroke="#686868" stroke-width="1.0" fill="none"/><path d="M626.60 445.10L626.60 458.40M624.40 445.10L628.80 445.10" stroke="#686868" stroke-width="1.0" fill="none"/><path d="M626.60 466.00L626.60 477.10M624.40 477.10L628.80 477.10" stroke="#686868" stroke-width="1.0" fill="none"/><path d="M421.20 326.40L421.20 367.50M419.00 326.40L423.40 326.40" stroke="#686868" stroke-width="1.0" fill="none"/><path d="M421.20 367.50L421.20 408.30M419.00 408.30L423.40 408.30" stroke="#686868" stroke-width="1.0" fill="none"/><path d="M437.00 310.50L437.00 318.50M434.80 310.50L439.20 310.50" stroke="#686868" stroke-width="1.0" fill="none"/><path d="M437.00 318.50L437.00 325.80M434.80 325.80L439.20 325.80" stroke="#686868" stroke-width="1.0" fill="none"/><path d="M452.80 387.30L452.80 406.40M450.60 387.30L455.00 387.30" stroke="#686868" stroke-width="1.0" fill="none"/><path d="M452.80 406.40L452.80 425.80M450.60 425.80L455.00 425.80" stroke="#686868" stroke-width="1.0" fill="none"/><path d="M468.60 313.20L468.60 389.40M466.40 313.20L470.80 313.20" stroke="#686868" stroke-width="1.0" fill="none"/><path d="M468.60 389.40L468.60 465.20M466.40 465.20L470.80 465.20" stroke="#686868" stroke-width="1.0" fill="none"/><path d="M484.40 427.70L484.40 445.90M482.20 427.70L486.60 427.70" stroke="#686868" stroke-width="1.0" fill="none"/><path d="M484.40 445.90L484.40 464.50M482.20 464.50L486.60 464.50" stroke="#686868" stroke-width="1.0" fill="none"/><path d="M516.00 431.90L516.00 435.60M513.80 431.90L518.20 431.90" stroke="#686868" stroke-width="1.0" fill="none"/><path d="M516.00 435.60L516.00 440.00M513.80 440.00L518.20 440.00" stroke="#686868" stroke-width="1.0" fill="none"/><path d="M547.60 426.30L547.60 449.60M545.40 426.30L549.80 426.30" stroke="#686868" stroke-width="1.0" fill="none"/><path d="M547.60 449.60L547.60 472.20M545.40 472.20L549.80 472.20" stroke="#686868" stroke-width="1.0" fill="none"/><path d="M421.20 447.00L437.00 465.70L452.80 481.70L468.60 481.70L484.40 481.70L516.00 481.70L547.60 481.70" stroke="#1a1a1a" stroke-width="0.9" fill="none" stroke-linejoin="round"/><path d="M421.20 453.60L437.00 473.00L452.80 480.00L468.60 480.00L484.40 480.70L516.00 480.00L547.60 480.00L626.60 461.40" stroke="#1a1a1a" stroke-width="0.9" fill="none" stroke-linejoin="round"/><path d="M421.20 367.50L437.00 318.50L452.80 406.40L468.60 389.40L484.40 445.90L516.00 435.60L547.60 449.60L626.60 421.20" stroke="#1a1a1a" stroke-width="0.9" fill="none" stroke-linejoin="round"/><path d="M421.20 442.57L417.40 449.07L425.00 449.07Z" fill="#fff" stroke="#2a2a2a" stroke-width="0.9"/><path d="M437.00 461.27L433.20 467.77L440.80 467.77Z" fill="#fff" stroke="#2a2a2a" stroke-width="0.9"/><path d="M452.80 477.27L449.00 483.77L456.60 483.77Z" fill="#fff" stroke="#2a2a2a" stroke-width="0.9"/><path d="M468.60 477.27L464.80 483.77L472.40 483.77Z" fill="#fff" stroke="#2a2a2a" stroke-width="0.9"/><path d="M484.40 477.27L480.60 483.77L488.20 483.77Z" fill="#fff" stroke="#2a2a2a" stroke-width="0.9"/><path d="M516.00 477.27L512.20 483.77L519.80 483.77Z" fill="#fff" stroke="#2a2a2a" stroke-width="0.9"/><path d="M547.60 477.27L543.80 483.77L551.40 483.77Z" fill="#fff" stroke="#2a2a2a" stroke-width="0.9"/><path d="M421.20 448.67L416.80 456.07L425.60 456.07Z" fill="#000"/><path d="M437.00 468.07L432.60 475.47L441.40 475.47Z" fill="#000"/><path d="M452.80 475.07L448.40 482.47L457.20 482.47Z" fill="#000"/><path d="M468.60 475.07L464.20 482.47L473.00 482.47Z" fill="#000"/><path d="M484.40 475.77L480.00 483.17L488.80 483.17Z" fill="#000"/><path d="M516.00 475.07L511.60 482.47L520.40 482.47Z" fill="#000"/><path d="M547.60 475.07L543.20 482.47L552.00 482.47Z" fill="#000"/><path d="M626.60 456.47L622.20 463.87L631.00 463.87Z" fill="#000"/><circle cx="421.20" cy="367.50" r="3.95" fill="#000"/><circle cx="437.00" cy="318.50" r="3.95" fill="#000"/><circle cx="452.80" cy="406.40" r="3.95" fill="#000"/><circle cx="468.60" cy="389.40" r="3.95" fill="#000"/><circle cx="484.40" cy="445.90" r="3.95" fill="#000"/><circle cx="516.00" cy="435.60" r="3.95" fill="#000"/><circle cx="547.60" cy="449.60" r="3.95" fill="#000"/><circle cx="626.60" cy="421.20" r="3.95" fill="#000"/><path d="M427.20 364.70L427.20 362.50M427.20 364.70L429.29 364.02M427.20 364.70L428.49 366.48M427.20 364.70L425.91 366.48M427.20 364.70L425.11 364.02" stroke="#333" stroke-width="1.15" fill="none" stroke-linecap="round"/><path d="M443.00 314.30L443.00 312.10M443.00 314.30L445.09 313.62M443.00 314.30L444.29 316.08M443.00 314.30L441.71 316.08M443.00 314.30L440.91 313.62" stroke="#333" stroke-width="1.15" fill="none" stroke-linecap="round"/><path d="M443.00 460.40L443.00 458.20M443.00 460.40L445.09 459.72M443.00 460.40L444.29 462.18M443.00 460.40L441.71 462.18M443.00 460.40L440.91 459.72" stroke="#333" stroke-width="1.15" fill="none" stroke-linecap="round"/><path d="M458.80 474.20L458.80 472.00M458.80 474.20L460.89 473.52M458.80 474.20L460.09 475.98M458.80 474.20L457.51 475.98M458.80 474.20L456.71 473.52" stroke="#333" stroke-width="1.15" fill="none" stroke-linecap="round"/><path d="M474.60 475.30L474.60 473.10M474.60 475.30L476.69 474.62M474.60 475.30L475.89 477.08M474.60 475.30L473.31 477.08M474.60 475.30L472.51 474.62" stroke="#333" stroke-width="1.15" fill="none" stroke-linecap="round"/><path d="M490.40 476.70L490.40 474.50M490.40 476.70L492.49 476.02M490.40 476.70L491.69 478.48M490.40 476.70L489.11 478.48M490.40 476.70L488.31 476.02" stroke="#333" stroke-width="1.15" fill="none" stroke-linecap="round"/><path d="M522.00 475.30L522.00 473.10M522.00 475.30L524.09 474.62M522.00 475.30L523.29 477.08M522.00 475.30L520.71 477.08M522.00 475.30L519.91 474.62" stroke="#333" stroke-width="1.15" fill="none" stroke-linecap="round"/><path d="M553.60 473.60L553.60 471.40M553.60 473.60L555.69 472.92M553.60 473.60L554.89 475.38M553.60 473.60L552.31 475.38M553.60 473.60L551.51 472.92" stroke="#333" stroke-width="1.15" fill="none" stroke-linecap="round"/><path d="M455.60 398.60L455.60 396.40M455.60 398.60L457.69 397.92M455.60 398.60L456.89 400.38M455.60 398.60L454.31 400.38M455.60 398.60L453.51 397.92" stroke="#333" stroke-width="1.15" fill="none" stroke-linecap="round"/><path d="M572.00 356.00L597.90 356.00" stroke="#2a2a2a" stroke-width="0.95" fill="none"/><circle cx="585.10" cy="356.00" r="3.85" fill="#000"/><text x="600.80" y="359.70" font-size="11.5" text-anchor="start" fill="#242424" >0 Gy + RP-3d</text><path d="M572.00 370.20L597.90 370.20" stroke="#2a2a2a" stroke-width="0.95" fill="none"/><path d="M585.10 364.97L580.80 372.67L589.40 372.67Z" fill="#fff" stroke="#2a2a2a" stroke-width="0.9"/><text x="600.80" y="373.90" font-size="11.5" text-anchor="start" fill="#242424" >7 Gy</text><path d="M572.00 384.50L597.90 384.50" stroke="#2a2a2a" stroke-width="0.95" fill="none"/><path d="M585.10 379.17L580.50 387.17L589.70 387.17Z" fill="#000"/><text x="600.80" y="388.20" font-size="11.5" text-anchor="start" fill="#242424" >7 Gy + RP-3d</text><path d="M635.30 429.20L635.30 443.30M633.30 429.20L637.30 429.20M633.30 443.30L637.30 443.30" stroke="#686868" stroke-width="1.0" fill="none"/><rect x="638.30" y="427.40" width="45.10" height="18.10" fill="#fff" stroke="#4a4a4a" stroke-width="1"/><text x="643.00" y="439.70" font-size="11.4" text-anchor="start" fill="#242424" >Control</text></svg>
</body></html>
